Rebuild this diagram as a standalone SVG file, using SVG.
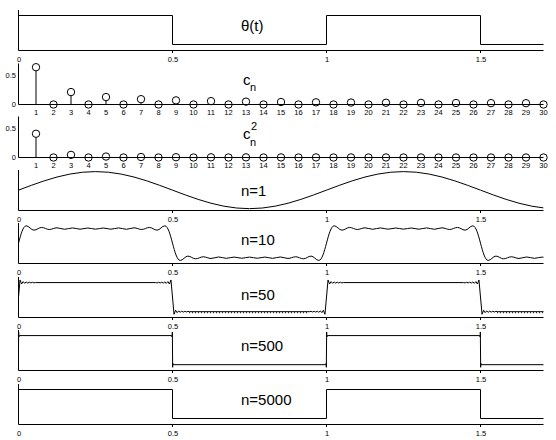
<svg xmlns="http://www.w3.org/2000/svg" width="556" height="440" viewBox="0 0 556 440">
<style>
.ax{fill:none;stroke:#000;stroke-width:1}
.cv{fill:none;stroke:#000;stroke-width:1;stroke-linejoin:round}
.rg{fill:none;stroke:#000;stroke-width:1;stroke-dasharray:1 2}
.tk{font-family:"Liberation Sans",Arial,sans-serif;font-size:7.5px;text-anchor:middle;fill:#000}
.yl{font-family:"Liberation Sans",Arial,sans-serif;font-size:7.5px;text-anchor:end;fill:#000}
.tt{font-family:"Liberation Sans",Arial,sans-serif;font-size:15px;fill:#000}
.sm{font-family:"Liberation Sans",Arial,sans-serif;font-size:11px;fill:#000}
.mk{fill:none;stroke:#000;stroke-width:1}
</style>
<defs>
<clipPath id="plot"><rect x="18.5" y="0" width="525" height="440"/></clipPath>
</defs>
<rect width="556" height="440" fill="#fff"/>

<g id="theta">
<path class="ax" d="M18.5,10 V50.5 H543.5 M172.5,50.5 v2.5 M326.5,50.5 v2.5 M480.5,50.5 v2.5"/>
<path class="cv" d="M18.5,15.5 H172.5 V44.5 H326.5 V15.5 H480.5 V44.5 H543.5"/>
<text class="tt" x="241" y="30.5">θ(t)</text>
<text class="tk" x="19" y="61.5">0</text><text class="tk" x="173" y="61.5">0.5</text><text class="tk" x="327" y="61.5">1</text><text class="tk" x="481" y="61.5">1.5</text>
</g>

<g id="cn">
<path class="ax" d="M18.5,63.5 V104.5 H543.5"/>
<path class="ax" d="M36,104.5 V70.9 M71,104.5 V95.77 M106,104.5 V100.74 M141,104.5 V102.87"/>
<g class="mk">
<circle cx="36" cy="67.2" r="3.7"/><circle cx="53.5" cy="104.5" r="3.7"/><circle cx="71" cy="92.07" r="3.7"/><circle cx="88.5" cy="104.5" r="3.7"/><circle cx="106" cy="97.04" r="3.7"/><circle cx="123.5" cy="104.5" r="3.7"/><circle cx="141" cy="99.17" r="3.7"/><circle cx="158.5" cy="104.5" r="3.7"/><circle cx="176" cy="100.36" r="3.7"/><circle cx="193.5" cy="104.5" r="3.7"/><circle cx="211" cy="101.11" r="3.7"/><circle cx="228.5" cy="104.5" r="3.7"/><circle cx="246" cy="101.63" r="3.7"/><circle cx="263.5" cy="104.5" r="3.7"/><circle cx="281" cy="102.01" r="3.7"/><circle cx="298.5" cy="104.5" r="3.7"/><circle cx="316" cy="102.31" r="3.7"/><circle cx="333.5" cy="104.5" r="3.7"/><circle cx="351" cy="102.54" r="3.7"/><circle cx="368.5" cy="104.5" r="3.7"/><circle cx="386" cy="102.72" r="3.7"/><circle cx="403.5" cy="104.5" r="3.7"/><circle cx="421" cy="102.88" r="3.7"/><circle cx="438.5" cy="104.5" r="3.7"/><circle cx="456" cy="103.01" r="3.7"/><circle cx="473.5" cy="104.5" r="3.7"/><circle cx="491" cy="103.12" r="3.7"/><circle cx="508.5" cy="104.5" r="3.7"/><circle cx="526" cy="103.21" r="3.7"/><circle cx="543.5" cy="104.5" r="3.7"/>
</g>
<text class="yl" x="16" y="77.7">0.5</text><text class="yl" x="16" y="107">0</text>
<text class="tt" x="243" y="85">c</text><text class="sm" x="250" y="91">n</text>
<g>
<text class="tk" x="36" y="114.5">1</text><text class="tk" x="53.5" y="114.5">2</text><text class="tk" x="71" y="114.5">3</text><text class="tk" x="88.5" y="114.5">4</text><text class="tk" x="106" y="114.5">5</text><text class="tk" x="123.5" y="114.5">6</text><text class="tk" x="141" y="114.5">7</text><text class="tk" x="158.5" y="114.5">8</text><text class="tk" x="176" y="114.5">9</text><text class="tk" x="193.5" y="114.5">10</text><text class="tk" x="211" y="114.5">11</text><text class="tk" x="228.5" y="114.5">12</text><text class="tk" x="246" y="114.5">13</text><text class="tk" x="263.5" y="114.5">14</text><text class="tk" x="281" y="114.5">15</text><text class="tk" x="298.5" y="114.5">16</text><text class="tk" x="316" y="114.5">17</text><text class="tk" x="333.5" y="114.5">18</text><text class="tk" x="351" y="114.5">19</text><text class="tk" x="368.5" y="114.5">20</text><text class="tk" x="386" y="114.5">21</text><text class="tk" x="403.5" y="114.5">22</text><text class="tk" x="421" y="114.5">23</text><text class="tk" x="438.5" y="114.5">24</text><text class="tk" x="456" y="114.5">25</text><text class="tk" x="473.5" y="114.5">26</text><text class="tk" x="491" y="114.5">27</text><text class="tk" x="508.5" y="114.5">28</text><text class="tk" x="526" y="114.5">29</text><text class="tk" x="543.5" y="114.5">30</text>
</g>
</g>

<g id="cn2">
<path class="ax" d="M18.5,116.5 V157.5 H543.5"/>
<path class="ax" d="M36,157.5 V137.45"/>
<g class="mk">
<circle cx="36" cy="133.75" r="3.7"/><circle cx="53.5" cy="157.5" r="3.7"/><circle cx="71" cy="154.86" r="3.7"/><circle cx="88.5" cy="157.5" r="3.7"/><circle cx="106" cy="156.55" r="3.7"/><circle cx="123.5" cy="157.5" r="3.7"/><circle cx="141" cy="157.02" r="3.7"/><circle cx="158.5" cy="157.5" r="3.7"/><circle cx="176" cy="157.21" r="3.7"/><circle cx="193.5" cy="157.5" r="3.7"/><circle cx="211" cy="157.3" r="3.7"/><circle cx="228.5" cy="157.5" r="3.7"/><circle cx="246" cy="157.35" r="3.7"/><circle cx="263.5" cy="157.5" r="3.7"/><circle cx="281" cy="157.4" r="3.7"/><circle cx="298.5" cy="157.5" r="3.7"/><circle cx="316" cy="157.4" r="3.7"/><circle cx="333.5" cy="157.5" r="3.7"/><circle cx="351" cy="157.45" r="3.7"/><circle cx="368.5" cy="157.5" r="3.7"/><circle cx="386" cy="157.45" r="3.7"/><circle cx="403.5" cy="157.5" r="3.7"/><circle cx="421" cy="157.45" r="3.7"/><circle cx="438.5" cy="157.5" r="3.7"/><circle cx="456" cy="157.5" r="3.7"/><circle cx="473.5" cy="157.5" r="3.7"/><circle cx="491" cy="157.5" r="3.7"/><circle cx="508.5" cy="157.5" r="3.7"/><circle cx="526" cy="157.5" r="3.7"/><circle cx="543.5" cy="157.5" r="3.7"/>
</g>
<text class="yl" x="16" y="130.7">0.5</text><text class="yl" x="16" y="160">0</text>
<text class="tt" x="243" y="139">c</text><text class="sm" x="251" y="130">2</text><text class="sm" x="250" y="146">n</text>
<g>
<text class="tk" x="36" y="167.5">1</text><text class="tk" x="53.5" y="167.5">2</text><text class="tk" x="71" y="167.5">3</text><text class="tk" x="88.5" y="167.5">4</text><text class="tk" x="106" y="167.5">5</text><text class="tk" x="123.5" y="167.5">6</text><text class="tk" x="141" y="167.5">7</text><text class="tk" x="158.5" y="167.5">8</text><text class="tk" x="176" y="167.5">9</text><text class="tk" x="193.5" y="167.5">10</text><text class="tk" x="211" y="167.5">11</text><text class="tk" x="228.5" y="167.5">12</text><text class="tk" x="246" y="167.5">13</text><text class="tk" x="263.5" y="167.5">14</text><text class="tk" x="281" y="167.5">15</text><text class="tk" x="298.5" y="167.5">16</text><text class="tk" x="316" y="167.5">17</text><text class="tk" x="333.5" y="167.5">18</text><text class="tk" x="351" y="167.5">19</text><text class="tk" x="368.5" y="167.5">20</text><text class="tk" x="386" y="167.5">21</text><text class="tk" x="403.5" y="167.5">22</text><text class="tk" x="421" y="167.5">23</text><text class="tk" x="438.5" y="167.5">24</text><text class="tk" x="456" y="167.5">25</text><text class="tk" x="473.5" y="167.5">26</text><text class="tk" x="491" y="167.5">27</text><text class="tk" x="508.5" y="167.5">28</text><text class="tk" x="526" y="167.5">29</text><text class="tk" x="543.5" y="167.5">30</text>
</g>
</g>

<g id="n1">
<path class="ax" d="M18.5,170 V210.5 H543.5 M172.5,210.5 v2.5 M326.5,210.5 v2.5 M480.5,210.5 v2.5"/>
<g clip-path="url(#plot)"><path class="cv" transform="translate(0.5,-0.2)" d="M18,190.33 L30.83,185.53 43.67,181.07 56.5,177.23 69.33,174.28 82.17,172.43 95,171.8 107.83,172.43 120.67,174.28 133.5,177.23 146.33,181.07 159.17,185.53 172,190.33 184.83,195.13 197.67,199.6 210.5,203.43 223.33,206.38 236.17,208.23 249,208.86 261.83,208.23 274.67,206.38 287.5,203.43 300.33,199.6 313.17,195.13 326,190.33 338.83,185.53 351.67,181.07 364.5,177.23 377.33,174.28 390.17,172.43 403,171.8 415.83,172.43 428.67,174.28 441.5,177.23 454.33,181.07 467.17,185.53 480,190.33 492.83,195.13 505.67,199.6 518.5,203.43 531.33,206.38 543.14,208.12"/></g>
<text class="tt" x="241" y="196">n=1</text>
<text class="tk" x="19" y="221.5">0</text><text class="tk" x="173" y="221.5">0.5</text><text class="tk" x="327" y="221.5">1</text><text class="tk" x="481" y="221.5">1.5</text>
</g>

<g id="n10">
<path class="ax" d="M18.5,223 V263.5 H543.5 M172.5,263.5 v2.5 M326.5,263.5 v2.5 M480.5,263.5 v2.5"/>
<g clip-path="url(#plot)"><path class="cv" transform="translate(0.5,-0.6)" d="M10.3,261.04 C16.5,261.04 19.5,226.42 25.7,226.42 C28.5,226.42 30.6,230.76 33.4,230.76 C36.2,230.76 38.3,228.04 41.1,228.04 C43.9,228.04 46,230.09 48.8,230.09 C51.6,230.09 53.7,228.4 56.5,228.4 C59.3,228.4 61.4,229.88 64.2,229.88 C67,229.88 69.1,228.53 71.9,228.53 C74.7,228.53 76.8,229.79 79.6,229.79 C82.4,229.79 84.5,228.6 87.3,228.6 C90.1,228.6 92.2,229.77 95,229.77 C97.8,229.77 99.9,228.6 102.7,228.6 C105.5,228.6 107.6,229.79 110.4,229.79 C113.2,229.79 115.3,228.53 118.1,228.53 C120.9,228.53 123,229.88 125.8,229.88 C128.6,229.88 130.7,228.4 133.5,228.4 C136.3,228.4 138.4,230.09 141.2,230.09 C144,230.09 146.1,228.04 148.9,228.04 C151.7,228.04 153.8,230.76 156.6,230.76 C159.4,230.76 161.5,226.42 164.3,226.42 C170.5,226.42 173.5,261.04 179.7,261.04 C182.5,261.04 184.6,256.7 187.4,256.7 C190.2,256.7 192.3,259.42 195.1,259.42 C197.9,259.42 200,257.37 202.8,257.37 C205.6,257.37 207.7,259.06 210.5,259.06 C213.3,259.06 215.4,257.58 218.2,257.58 C221,257.58 223.1,258.93 225.9,258.93 C228.7,258.93 230.8,257.67 233.6,257.67 C236.4,257.67 238.5,258.86 241.3,258.86 C244.1,258.86 246.2,257.69 249,257.69 C251.8,257.69 253.9,258.86 256.7,258.86 C259.5,258.86 261.6,257.67 264.4,257.67 C267.2,257.67 269.3,258.93 272.1,258.93 C274.9,258.93 277,257.58 279.8,257.58 C282.6,257.58 284.7,259.06 287.5,259.06 C290.3,259.06 292.4,257.37 295.2,257.37 C298,257.37 300.1,259.42 302.9,259.42 C305.7,259.42 307.8,256.7 310.6,256.7 C313.4,256.7 315.5,261.04 318.3,261.04 C324.5,261.04 327.5,226.42 333.7,226.42 C336.5,226.42 338.6,230.76 341.4,230.76 C344.2,230.76 346.3,228.04 349.1,228.04 C351.9,228.04 354,230.09 356.8,230.09 C359.6,230.09 361.7,228.4 364.5,228.4 C367.3,228.4 369.4,229.88 372.2,229.88 C375,229.88 377.1,228.53 379.9,228.53 C382.7,228.53 384.8,229.79 387.6,229.79 C390.4,229.79 392.5,228.6 395.3,228.6 C398.1,228.6 400.2,229.77 403,229.77 C405.8,229.77 407.9,228.6 410.7,228.6 C413.5,228.6 415.6,229.79 418.4,229.79 C421.2,229.79 423.3,228.53 426.1,228.53 C428.9,228.53 431,229.88 433.8,229.88 C436.6,229.88 438.7,228.4 441.5,228.4 C444.3,228.4 446.4,230.09 449.2,230.09 C452,230.09 454.1,228.04 456.9,228.04 C459.7,228.04 461.8,230.76 464.6,230.76 C467.4,230.76 469.5,226.42 472.3,226.42 C478.5,226.42 481.5,261.04 487.7,261.04 C490.5,261.04 492.6,256.7 495.4,256.7 C498.2,256.7 500.3,259.42 503.1,259.42 C505.9,259.42 508,257.37 510.8,257.37 C513.6,257.37 515.7,259.06 518.5,259.06 C521.3,259.06 523.4,257.58 526.2,257.58 C529,257.58 531.1,258.93 533.9,258.93 C536.7,258.93 538.8,257.67 541.6,257.67 C544.4,257.67 546.5,258.86 549.3,258.86"/></g>
<text class="tt" x="241" y="244.5">n=10</text>
<text class="tk" x="19" y="274.5">0</text><text class="tk" x="173" y="274.5">0.5</text><text class="tk" x="327" y="274.5">1</text><text class="tk" x="481" y="274.5">1.5</text>
</g>

<g id="n50">
<path class="ax" d="M18.5,277 V317.5 H543.5 M172.5,317.5 v2.5 M326.5,317.5 v2.5 M480.5,317.5 v2.5"/>
<g clip-path="url(#plot)"><path class="cv" transform="translate(0.5,0)" d="M18,297.13 L19.54,279.98 21.08,284 22.62,281.62 24.16,283.31 25.7,281.99 27.24,283.07 28.78,282.16 30.32,282.95 31.86,282.27 33.4,282.87 35,282.58 155,282.58 156.6,282.87 158.14,282.27 159.68,282.95 161.22,282.16 162.76,283.07 164.3,281.99 165.84,283.31 167.38,281.62 168.92,284 170.46,279.98 173.54,314.28 175.08,310.27 176.62,312.64 178.16,310.95 179.7,312.26 181.24,311.19 182.78,312.1 184.32,311.31 185.86,311.99 187.4,311.39 189,311.68 309,311.68 310.6,311.39 312.14,311.99 313.68,311.31 315.22,312.1 316.76,311.19 318.3,312.26 319.84,310.95 321.38,312.64 322.92,310.27 324.46,314.28 327.54,279.98 329.08,284 330.62,281.62 332.16,283.31 333.7,281.99 335.24,283.07 336.78,282.16 338.32,282.95 339.86,282.27 341.4,282.87 343,282.58 463,282.58 464.6,282.87 466.14,282.27 467.68,282.95 469.22,282.16 470.76,283.07 472.3,281.99 473.84,283.31 475.38,281.62 476.92,284 478.46,279.98 481.54,314.28 483.08,310.27 484.62,312.64 486.16,310.95 487.7,312.26 489.24,311.19 490.78,312.1 492.32,311.31 493.86,311.99 495.4,311.39 497,311.68 543.5,311.68"/>
<path class="rg" d="M189,312.7 H309 M497,312.7 H543.5"/></g>
<text class="tt" x="241" y="300">n=50</text>
<text class="tk" x="19" y="328.5">0</text><text class="tk" x="173" y="328.5">0.5</text><text class="tk" x="327" y="328.5">1</text><text class="tk" x="481" y="328.5">1.5</text>
</g>

<g id="n500">
<path class="ax" d="M18.5,330 V370.5 H543.5 M172.5,370.5 v2.5 M326.5,370.5 v2.5 M480.5,370.5 v2.5"/>
<g clip-path="url(#plot)"><path class="cv" transform="translate(0.5,-0.4)" d="M18,350.53 L18.15,332.38 18.3,337.39 18.8,335.98 171.2,335.98 171.7,337.39 171.85,332.38 172.15,367.68 172.3,363.67 172.8,365.08 325.2,365.08 325.7,363.67 325.85,367.68 326.15,332.38 326.3,337.39 326.8,335.98 479.2,335.98 479.7,337.39 479.85,332.38 480.15,367.68 480.3,363.67 480.8,365.08 543.5,365.08"/></g>
<text class="tt" x="241" y="350.5">n=500</text>
<text class="tk" x="19" y="381.5">0</text><text class="tk" x="173" y="381.5">0.5</text><text class="tk" x="327" y="381.5">1</text><text class="tk" x="481" y="381.5">1.5</text>
</g>

<g id="n5000">
<path class="ax" d="M18.5,384 V424.5 H543.5 M172.5,424.5 v2.5 M326.5,424.5 v2.5 M480.5,424.5 v2.5"/>
<path class="cv" d="M18.5,389.5 H172.5 V418.5 H326.5 V389.5 H480.5 V418.5 H543.5"/>
<text class="tt" x="241" y="404.5">n=5000</text>
<text class="tk" x="19" y="435.5">0</text><text class="tk" x="173" y="435.5">0.5</text><text class="tk" x="327" y="435.5">1</text><text class="tk" x="481" y="435.5">1.5</text>
</g>
</svg>
